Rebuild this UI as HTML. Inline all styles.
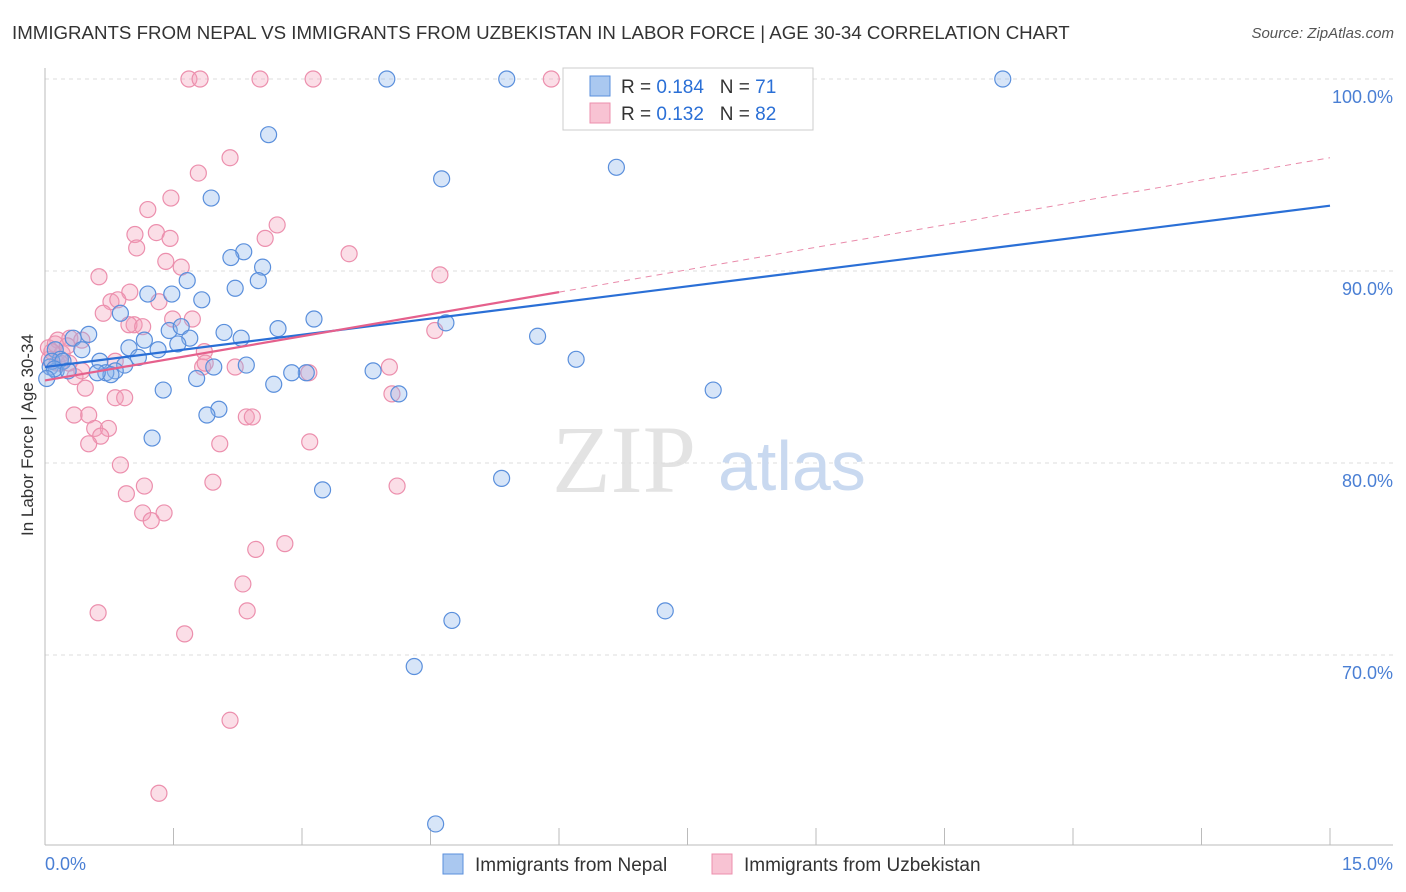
<!DOCTYPE html>
<html><head><meta charset="utf-8"><style>
body{margin:0;background:#fff;font-family:"Liberation Sans",sans-serif;}
#wrap{position:relative;width:1406px;height:892px;overflow:hidden;}
.t{position:absolute;white-space:nowrap;}
</style></head><body>
<div id="wrap">
<div class="t" style="left:12px;top:22px;font-size:18.7px;color:#333;">IMMIGRANTS FROM NEPAL VS IMMIGRANTS FROM UZBEKISTAN IN LABOR FORCE | AGE 30-34 CORRELATION CHART</div>
<div class="t" style="right:12px;top:25px;font-size:15px;color:#555;font-style:italic;">Source: ZipAtlas.com</div>
<div class="t" style="left:-52px;top:446px;font-size:17px;color:#333;transform:rotate(-90deg);width:160px;text-align:center;">In Labor Force | Age 30-34</div>
<svg id="svg" width="1406" height="892" style="position:absolute;left:0;top:0"></svg>
</div>
<script>
// data values (x in %, y in %)
const nepalX=[3.99,5.39,6.33,6.79,11.18,2.61,6.67,4.63,1.94,2.32,2.17,2.54,1.66,2.49,2.22,1.2,1.48,1.83,0.88,3.14,4.68,1.45,1.59,2.72,2.09,1.69,2.29,0.51,0.33,1.16,5.75,0.43,0.98,1.32,1.55,0.12,1.09,0.64,0.93,0.18,0.06,6.2,1.97,2.35,3.05,3.83,0.82,0.71,0.77,0.61,1.77,2.88,0.13,1.38,2.67,4.13,7.8,2.03,1.89,1.25,3.24,5.33,4.75,7.24,4.31,4.56,0.08,0.21,0.11,0.02,0.27];
const nepalY=[100,100,100,100,100,97.1,95.4,94.8,93.8,91,90.7,90.2,89.5,89.5,89.1,88.8,88.8,88.5,87.8,87.5,87.3,86.9,87.1,87,86.8,86.5,86.5,86.7,86.5,86.4,86.6,85.9,86,85.9,86.2,85.9,85.5,85.3,85.1,85.4,85,85.4,85,85.1,84.7,84.8,84.8,84.7,84.6,84.7,84.4,84.7,84.8,83.8,84.1,83.6,83.8,82.8,82.5,81.3,78.6,79.2,71.8,72.3,69.4,61.2,85.3,85.3,84.9,84.4,84.8];
const uzbX=[1.68,1.81,2.51,3.13,5.91,2.16,1.79,1.47,1.2,2.71,1.05,1.3,1.46,2.57,1.07,3.55,1.41,1.59,0.63,4.61,0.99,0.77,1.33,0.85,0.68,1.04,0.98,1.49,1.72,1.14,4.55,0.15,0.29,0.43,0.04,0.2,1.86,0.82,2.22,4.02,0.14,0.28,0.35,0.43,3.08,0.05,4.05,0.47,0.82,0.93,0.34,0.51,2.35,2.42,0.58,0.74,2.04,0.65,0.51,3.09,0.88,1.96,4.11,0.95,1.16,1.14,1.39,1.24,2.46,2.8,2.31,0.62,2.36,1.63,2.16,1.33,1.84,0.12,0.08,0.18,1.87,0.26];
const uzbY=[100,100,100,100,100,95.9,95.1,93.8,93.2,92.4,91.9,92,91.7,91.7,91.2,90.9,90.5,90.2,89.7,89.8,88.9,88.4,88.4,88.5,87.8,87.2,87.2,87.5,87.5,87.1,86.9,86.4,86.5,86.4,86,85.7,85.8,85.3,85,85,85.2,85.2,84.5,84.8,84.7,85.4,83.6,83.9,83.4,83.4,82.5,82.5,82.4,82.4,81.8,81.8,81,81.4,81,81.1,79.9,79,78.8,78.4,78.8,77.4,77.4,77,75.5,75.8,73.7,72.2,72.3,71.1,66.6,62.8,85,86.2,85.8,85.2,85.2,86.1];
const xTicks=[0,1.5,3,4.5,6,7.5,9,10.5,12,13.5,15];
const yTickVals=[100,90,80,70];
const yTickLabels=["100.0%","90.0%","80.0%","70.0%"];
const blueTrend=[85.0,93.4];
const pinkTrend=[84.3,88.9,95.9];
const X=v=>45+v/15*1285, Y=v=>79+(100-v)*19.2;
const s=document.getElementById('svg'),NS='http://www.w3.org/2000/svg';
function mk(t,a){const e=document.createElementNS(NS,t);for(const k in a)e.setAttribute(k,a[k]);s.appendChild(e);return e;}
let e;
yTickVals.forEach((v,i)=>{
e=mk('line',{x1:45,x2:1393,y1:Y(v),y2:Y(v),stroke:'#ddd','stroke-dasharray':'4,4'});


e=mk('text',{x:1393,y:Y(v)+24,'text-anchor':'end','font-size':18,fill:'#4a7fd4'});e.textContent=yTickLabels[i];


});
e=mk('line',{x1:45,x2:45,y1:68,y2:845,stroke:'#bbb'});


e=mk('line',{x1:45,x2:1393,y1:845,y2:845,stroke:'#bbb'});


xTicks.forEach(v=>{e=mk('line',{x1:X(v),x2:X(v),y1:828,y2:845,stroke:'#bbb'});

});
e=mk('text',{x:45,y:870,'font-size':18,fill:'#4a7fd4'});e.textContent='0.0%';


e=mk('text',{x:1393,y:870,'text-anchor':'end','font-size':18,fill:'#4a7fd4'});e.textContent='15.0%';


e=mk('text',{x:552,y:492,'font-size':96,fill:'#ddd','font-family':'Liberation Serif',opacity:0.8});e.textContent='ZIP';


e=mk('text',{x:718,y:490,'font-size':70,fill:'#c9d9f0'});e.textContent='atlas';


uzbX.forEach((v,i)=>{e=mk('circle',{cx:X(v),cy:Y(uzbY[i]),r:8,fill:'rgba(244,160,185,0.35)',stroke:'#ec8fad','stroke-width':1.2});

});
nepalX.forEach((v,i)=>{e=mk('circle',{cx:X(v),cy:Y(nepalY[i]),r:8,fill:'rgba(140,180,235,0.35)',stroke:'#5a8fdc','stroke-width':1.2});

});
e=mk('line',{x1:X(0),y1:Y(blueTrend[0]),x2:X(15),y2:Y(blueTrend[1]),stroke:'#2a6fd6','stroke-width':2.2});


e=mk('line',{x1:X(0),y1:Y(pinkTrend[0]),x2:X(6),y2:Y(pinkTrend[1]),stroke:'#e5608c','stroke-width':2.2});


e=mk('line',{x1:X(6),y1:Y(pinkTrend[1]),x2:X(15),y2:Y(pinkTrend[2]),stroke:'#e98aaa','stroke-width':1,'stroke-dasharray':'6,5'});


e=mk('rect',{x:563,y:68,width:250,height:62,fill:'#fff',stroke:'#ccc'});


[['#aac8f0','#5a8fdc','0.184','71',86],['#f8c3d3','#ec8fad','0.132','82',113]].forEach(r=>{
e=mk('rect',{x:590,y:r[4]-10,width:20,height:20,fill:r[0],stroke:r[1]});


e=mk('text',{x:621,y:r[4]+7,'font-size':19,fill:'#333'});
e.innerHTML='R = <tspan fill="#2a6fd6">'+r[2]+'</tspan>&#160;&#160;&#160;N = <tspan fill="#2a6fd6">'+r[3]+'</tspan>';


});
[[443,'#aac8f0','#5a8fdc','Immigrants from Nepal'],[712,'#f8c3d3','#ec8fad','Immigrants from Uzbekistan']].forEach(r=>{
e=mk('rect',{x:r[0],y:854,width:20,height:20,fill:r[1],stroke:r[2]});


e=mk('text',{x:r[0]+32,y:871,'font-size':19,fill:'#333'});e.textContent=r[3];


});
</script>
</body></html>
